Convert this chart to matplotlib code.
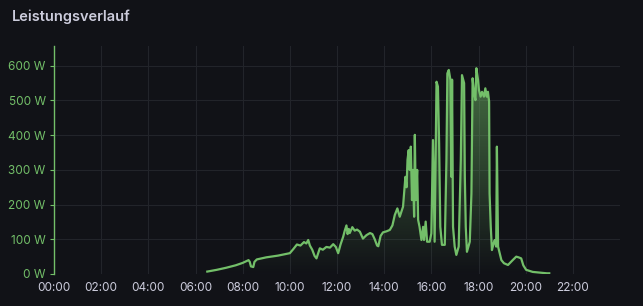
import numpy as np
import matplotlib.pyplot as plt
from matplotlib.colors import to_rgb

# Leistung (W) über den Tag, Stunden als Dezimalzahl
stunden = [6.5, 6.9, 7.3, 7.7, 8.0, 8.25, 8.3, 8.35, 8.45, 8.5, 8.6, 9.0, 9.5, 10.0,
           10.15, 10.3, 10.45, 10.6, 10.7, 10.78, 10.85, 10.95, 11.05, 11.13, 11.2,
           11.27, 11.4, 11.55, 11.7, 11.84, 11.95, 12.05, 12.15, 12.26, 12.33, 12.4,
           12.45, 12.5, 12.54, 12.65, 12.75, 12.85, 12.97, 13.05, 13.1, 13.25, 13.4,
           13.5, 13.6, 13.7, 13.75, 13.85, 13.95, 14.1, 14.24, 14.35, 14.45, 14.56,
           14.66, 14.8, 14.9, 14.95, 14.99, 15.04, 15.08, 15.13, 15.18, 15.22, 15.27,
           15.3, 15.34, 15.4, 15.44, 15.5, 15.58, 15.65, 15.69, 15.76, 15.82, 15.93,
           16.0, 16.07, 16.14, 16.22, 16.28, 16.33, 16.38, 16.45, 16.57, 16.64, 16.68,
           16.74, 16.81, 16.85, 16.88, 16.92, 16.99, 17.06, 17.16, 17.25, 17.3, 17.39,
           17.42, 17.46, 17.51, 17.63, 17.7, 17.75, 17.81, 17.87, 17.91, 17.98, 18.02,
           18.09, 18.15, 18.23, 18.29, 18.35, 18.4, 18.45, 18.47, 18.52, 18.57, 18.64,
           18.69, 18.75, 18.78, 18.83, 18.9, 18.97, 19.08, 19.25, 19.45, 19.6, 19.7,
           19.81, 19.9, 20.02, 20.3, 20.6, 20.9, 21.0]
leistung = [7, 12, 18, 25, 32, 40, 35, 22, 20, 35, 42, 48, 53, 60,
            72, 85, 82, 92, 88, 98, 82, 70, 52, 45, 60,
            74, 70, 78, 76, 86, 78, 60, 85, 107, 125, 140,
            115, 130, 118, 135, 125, 128, 122, 110, 102, 112, 118,
            115, 100, 82, 80, 110, 120, 123, 127, 140, 170, 189,
            165, 194, 280, 250, 329, 357, 300, 367, 213, 300, 165,
            401, 213, 300, 156, 136, 98, 136, 98, 151, 93, 93,
            117, 386, 93, 554, 540, 377, 136, 84, 84, 329, 578,
            588, 559, 280, 560, 136, 79, 55, 79, 329, 573, 550,
            280, 136, 64, 93, 232, 564, 521, 501, 593, 559, 530,
            511, 525, 511, 535, 511, 525, 497, 232, 136, 69, 88,
            98, 79, 367, 79, 60, 40, 31, 26, 40, 50, 48,
            45, 25, 12, 6, 4, 2, 2]

x_ticks = list(range(0, 24, 2))
x_labels = ["%02d:00" % h for h in x_ticks]
y_ticks = [0, 100, 200, 300, 400, 500, 600]
y_labels = ["%d W" % v for v in y_ticks]

bg = "#111217"
gruen = "#73BF69"
text = "#ccccdc"
gitter = "#22242a"

plt.rcParams['font.family'] = ['Inter', 'DejaVu Sans']

fig = plt.figure(figsize=(6.43, 3.06), dpi=100, facecolor=bg)
ax = fig.add_axes([54/643, 1-274/306, 566/643, 228/306], facecolor=bg)

x = np.array(stunden)
y = np.array(leistung)
ymax = 657

# Verlaufsfüllung unter der Kurve
poly = ax.fill_between(x, 0, y, color="none", lw=0)
grad = np.zeros((256, 1, 4))
grad[:, 0, :3] = to_rgb(gruen)
grad[:, 0, 3] = np.linspace(0.55, 0.0, 256)
img = ax.imshow(grad, aspect="auto", extent=(x.min(), x.max(), 0, 600),
                origin="upper", zorder=1)
img.set_clip_path(poly.get_paths()[0], transform=ax.transData)

ax.plot(x, y, color=gruen, lw=1.6, zorder=3, solid_joinstyle="round")

ax.set_xlim(0, 24)
ax.set_ylim(0, ymax)
ax.set_xticks(x_ticks)
ax.set_xticklabels(x_labels)
ax.set_yticks(y_ticks)
ax.set_yticklabels(y_labels)
ax.grid(True, color=gitter, lw=0.8)
ax.set_axisbelow(True)

for s in ["top", "right", "bottom"]:
    ax.spines[s].set_visible(False)
ax.spines["left"].set_color(gruen)
ax.spines["left"].set_linewidth(1.0)

ax.tick_params(axis="x", length=0, colors=text, labelsize=8.5, pad=6)
ax.tick_params(axis="y", length=3, color=gruen, labelcolor=gruen, labelsize=8.5, pad=3)

fig.text(12/643, 1-17/306, "Leistungsverlauf", color=text, fontsize=10.5,
         fontweight="semibold", va="center", ha="left")

fig.savefig("out.png", dpi=100, facecolor=bg)
